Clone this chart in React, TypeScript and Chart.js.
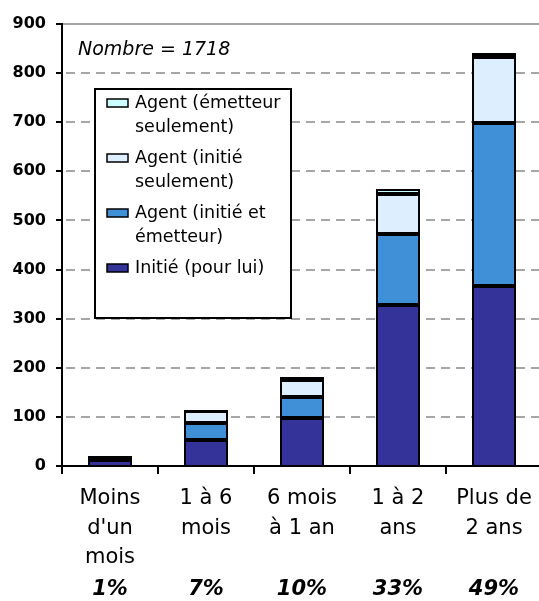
import React, { useEffect, useRef } from "react";
import { Chart, registerables } from "chart.js";

Chart.register(...registerables);

const categories = [
  ["Moins", "d'un", "mois"],
  ["1 à 6", "mois"],
  ["6 mois", "à 1 an"],
  ["1 à 2", "ans"],
  ["Plus de", "2 ans"],
];
const initiePourLui = [12, 53, 97, 328, 367];
const agentInitieEmetteur = [4, 34, 44, 144, 331];
const agentInitieSeulement = [3, 24, 35, 81, 134];
const agentEmetteurSeulement = [1, 4, 5, 12, 9];
const shares = ["1%", "7%", "10%", "33%", "49%"];
const seriesLabels = [
  ["Initié (pour lui)"],
  ["Agent (initié et", "émetteur)"],
  ["Agent (initié", "seulement)"],
  ["Agent (émetteur", "seulement)"],
];
const seriesColors = ["#333399", "#4090d8", "#ddeeff", "#ccffff"];
const totalLabel = "Nombre = 1718";

const FONT = "DejaVu Sans";

export default function App() {
  const ref = useRef<HTMLCanvasElement>(null);

  useEffect(() => {
    if (!ref.current) return;
    const seriesData = [initiePourLui, agentInitieEmetteur, agentInitieSeulement, agentEmetteurSeulement];
    const datasets = seriesData.map((d, i) => ({
      label: seriesLabels[i].join(" "),
      data: d,
      backgroundColor: seriesColors[i],
      borderColor: "#000",
      borderWidth: 2,
      borderSkipped: i === 0 ? "start" : false,
      inflateAmount: 0,
      barPercentage: 0.45,
      categoryPercentage: 1,
    }));

    const overlay = {
      id: "overlay",
      // snap the bar rectangles computed by the scales to whole pixels (crisp edges)
      afterDatasetsUpdate(chart: any) {
        chart.data.datasets.forEach((_: any, di: number) => {
          chart.getDatasetMeta(di).data.forEach((el: any) => {
            const l = Math.round(el.x - el.width / 2);
            const r = Math.round(el.x + el.width / 2);
            el.x = (l + r) / 2;
            el.width = r - l;
            el.y = Math.round(el.y);
            el.base = Math.round(el.base);
          });
        });
      },
      beforeDatasetsDraw(chart: any) {
        const { ctx, chartArea, scales } = chart;
        const y = scales.y;
        ctx.save();
        ctx.lineWidth = 2;
        ctx.strokeStyle = "#a6a6a6";
        y.ticks.forEach((t: any) => {
          if (t.value === 0) return;
          const py = Math.round(y.getPixelForValue(t.value));
          ctx.setLineDash(t.value === 900 ? [] : [9, 6]);
          ctx.lineDashOffset = -3;
          ctx.beginPath();
          ctx.moveTo(chartArea.left + 1, py);
          ctx.lineTo(chartArea.right, py);
          ctx.stroke();
        });
        ctx.restore();
      },
      afterDatasetsDraw(chart: any) {
        const { ctx, scales } = chart;
        ctx.save();
        // title
        ctx.fillStyle = "#000";
        ctx.font = `italic 19px "${FONT}"`;
        ctx.textAlign = "left";
        ctx.textBaseline = "middle";
        ctx.fillText(totalLabel, 78, 50);

        // legend box
        const bx = 95, by = 89, bw = 196, bh = 229;
        ctx.fillStyle = "#fff";
        ctx.fillRect(bx, by, bw, bh);
        ctx.lineWidth = 2;
        ctx.strokeStyle = "#000";
        ctx.strokeRect(bx, by, bw, bh);

        const dsList = chart.data.datasets;
        let cy = 103;
        ctx.font = `17.5px "${FONT}"`;
        for (let k = dsList.length - 1; k >= 0; k--) {
          const lines = seriesLabels[k];
          ctx.fillStyle = dsList[k].backgroundColor;
          ctx.fillRect(107, cy - 4, 21, 8);
          ctx.lineWidth = 1.5;
          ctx.strokeStyle = "#000";
          ctx.strokeRect(107, cy - 4, 21, 8);
          ctx.fillStyle = "#000";
          lines.forEach((ln, j) => ctx.fillText(ln, 135, cy + j * 24));
          cy += lines.length * 24 + 7;
        }

        // shares under categories
        const x = scales.x;
        ctx.font = `italic bold 21px "${FONT}"`;
        ctx.textAlign = "center";
        shares.forEach((s, i) => {
          ctx.fillText(s, x.getPixelForValue(i), 590);
        });
        ctx.restore();
      },
    };

    const chart = new Chart(ref.current, {
      type: "bar",
      data: { labels: categories as any, datasets: datasets as any },
      options: {
        animation: false,
        responsive: false,
        layout: { padding: { top: 24, left: 0, right: 0, bottom: 0 } },
        plugins: { legend: { display: false }, tooltip: { enabled: false } },
        scales: {
          x: {
            stacked: true,
            offset: true,
            grid: {
              offset: true,
              drawOnChartArea: false,
              drawTicks: true,
              tickLength: 8,
              color: "#000",
              lineWidth: 2,
            },
            border: { color: "#000", width: 2 },
            ticks: {
              color: "#000",
              font: { family: FONT, size: 21, lineHeight: 1.4 },
              padding: 10,
              maxRotation: 0,
              autoSkip: false,
            },
            afterFit: (s: any) => {
              s.height = 135;
            },
          },
          y: {
            stacked: true,
            min: 0,
            max: 900,
            ticks: {
              stepSize: 100,
              color: "#000",
              font: { family: FONT, size: 16, weight: "bold" },
              padding: 10,
            },
            grid: {
              drawOnChartArea: false,
              tickLength: 6,
              color: "#000",
              lineWidth: 2,
            },
            border: { color: "#000", width: 2 },
            afterFit: (s: any) => {
              s.width = 62;
            },
          },
        },
      },
      plugins: [overlay],
    });
    return () => chart.destroy();
  }, []);

  return (
    <div
      style={{
        position: "absolute",
        left: 0,
        top: 0,
        width: 539,
        height: 601,
        overflow: "hidden",
        background: "#fff",
      }}
    >
      <canvas ref={ref} width={542} height={601} style={{ display: "block" }} />
    </div>
  );
}
